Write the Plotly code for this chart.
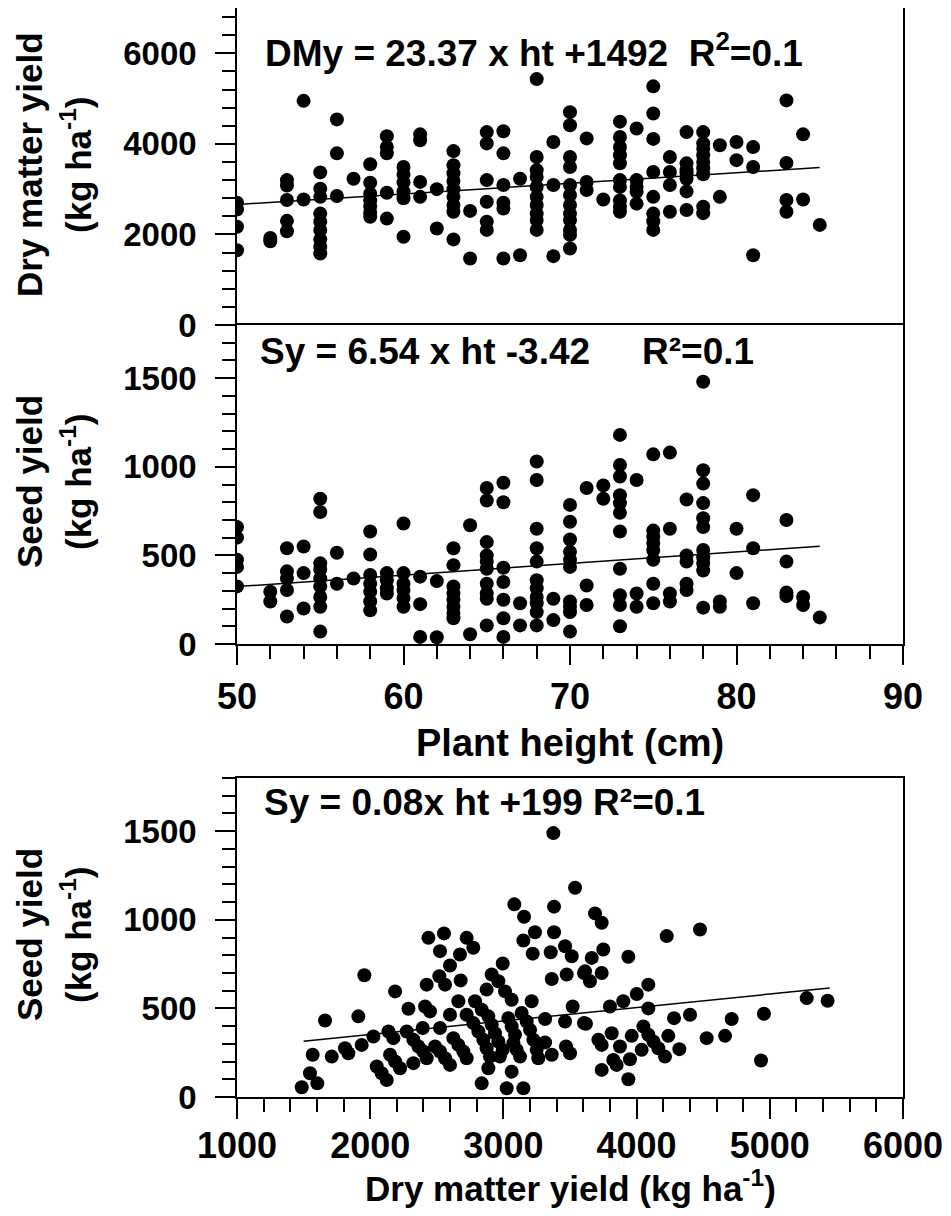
import plotly.graph_objects as go

# ---------------- data ----------------
# Panel 1: plant height (cm) vs dry matter yield (kg/ha)
ht_dm = ([50]*4 + [52]*2 + [53]*5 + [54]*2 + [55]*9 + [56]*3 + [57] + [58]*7 + [59]*5 +
         [60]*6 + [61]*4 + [62]*2 + [63]*9 + [64]*2 + [65]*6 + [66]*6 + [67]*2 + [68]*10 +
         [69]*3 + [70]*12 + [71]*3 + [72] + [73]*10 + [74]*5 + [75]*8 + [76]*4 + [77]*7 +
         [78]*9 + [79]*2 + [80]*2 + [81]*3 + [83]*4 + [84]*2 + [85])
dm_vals = [2700, 2550, 2170, 1650,
           1920, 1850,
           3200, 3080, 2760, 2300, 2070,
           4950, 2770,
           3370, 3010, 2830, 2460, 2280, 2100, 1890, 1730, 1580,
           4540, 3790, 2850,
           3230,
           3550, 3140, 2900, 2750, 2620, 2480, 2390,
           4170, 3930, 3790, 2920, 2350,
           3490, 3320, 3150, 2950, 2800, 1950,
           4210, 4080, 3160, 2830,
           3000, 2130,
           3840, 3530, 3350, 3180, 3000, 2830, 2650, 2500, 1890,
           2520, 1470,
           4260, 4010, 3200, 2720, 2280, 2100,
           4280, 3790, 3090, 2700, 2570, 1470,
           3230, 1540,
           5430, 3710, 3420, 3270, 3050, 2830, 2650, 2460, 2320, 2100,
           4040, 3090, 1520,
           4700, 4410, 3710, 3490, 3090, 2870, 2650, 2460, 2320, 2100, 1990, 1690,
           4120, 3160, 2980,
           2770,
           4490, 4150, 3930, 3750, 3570, 3200, 3050, 2750, 2610, 2500,
           4340, 3200, 3050, 2940, 2680,
           5270, 4670, 4110, 3380, 2830, 2460, 2290, 2100,
           3710, 3380, 3090, 2500,
           4260, 3570, 3420, 3350, 3230, 2950, 2540,
           4260, 4010, 3890, 3750, 3600, 3460, 3330, 2610, 2470,
           3970, 2830,
           4040, 3640,
           3930, 3490, 1540,
           4960, 3580, 2760, 2500,
           4210, 2770,
           2210]
fit1_x = [50, 85]
fit1_y = [2660, 3478]

# Panel 2: plant height (cm) vs seed yield (kg/ha)
ht_sy = ([50]*5 + [52]*2 + [53]*5 + [54]*3 + [55]*9 + [56]*2 + [57] + [58]*7 + [59]*4 +
         [60]*6 + [61]*3 + [62]*2 + [63]*8 + [64]*2 + [65]*10 + [66]*7 + [67]*2 + [68]*11 +
         [69]*2 + [70]*10 + [71]*3 + [72]*2 + [73]*11 + [74]*3 + [75]*8 + [76]*4 + [77]*5 +
         [78]*11 + [79]*2 + [80]*2 + [81]*3 + [83]*4 + [84]*2 + [85])
sy_vals = [660, 600, 475, 435, 325,
           295, 240,
           540, 410, 370, 305, 155,
           550, 400, 200,
           820, 745, 455, 420, 370, 325, 265, 210, 70,
           515, 340,
           370,
           635, 505, 390, 340, 295, 240, 190,
           400, 360, 315, 285,
           680, 400, 340, 305, 260, 210,
           380, 225, 40,
           355, 38,
           540, 445, 325, 285, 250, 210, 175, 145,
           670, 55,
           880, 810, 575, 500, 465, 425, 340, 285, 255, 105,
           910, 800, 430, 350, 250, 145, 40,
           230, 105,
           1030, 925, 650, 540, 465, 360, 315, 265, 230, 180, 105,
           255, 135,
           785, 690, 590, 520, 475, 435, 240, 210, 180, 70,
           880, 330, 220,
           895, 820,
           1180, 1010, 945, 840, 795, 740, 635, 425, 275, 220, 100,
           925, 285, 210,
           1070, 640, 605, 570, 530, 475, 340, 230,
           1080, 650, 285, 240,
           815, 500, 465, 340, 305,
           1480, 980, 905, 795, 710, 660, 530, 490, 455, 415, 205,
           240, 210,
           650, 400,
           840, 540, 230,
           700, 465, 290, 270,
           265, 220,
           150]
fit2_x = [50, 85]
fit2_y = [324, 552]

# Panel 3: dry matter yield vs seed yield (kg/ha)
dm3 = [1486, 1548, 1603, 1568, 1661, 1711, 1811, 1836, 1936, 1911, 1956, 2024, 2049, 2086,
       2124, 2137, 2174, 2187, 2149, 2187, 2224, 2287, 2274, 2324, 2362, 2399, 2424, 2324,
       2412, 2449, 2394, 2424, 2437,
       2554, 2524, 2724, 2774, 2674, 2599, 2519, 2562, 2679, 2662, 2599, 2524, 2787, 2837,
       2724, 2874, 2912, 2962, 2995, 3012, 3062, 2887, 3212, 3082, 3155, 3237, 3150, 3220,
       3375, 3380, 3380, 3355, 3463, 3513, 3538, 3363, 3475, 3605, 3520, 3463, 3313, 3605,
       3313, 3363, 3470, 3500,
       2487, 2524, 2562, 2599, 2624, 2662, 2699, 2724, 2774, 2812, 2849, 2874, 2899, 2887,
       2837, 2912, 2937, 2962, 2974, 2995, 3025, 3062, 3150, 3037, 3062, 3087, 3100, 3125,
       3075, 3137, 3175, 3200, 3225, 3250, 3262,
       3688, 3738, 3750, 3663, 3938, 4226, 4476, 3613, 3650, 3738, 4088, 4001, 3900, 3800,
       4088, 3620, 4051, 4088, 4126, 4163, 4213, 3713, 3738, 3813, 3875, 3963, 3950, 3825,
       3850, 3738, 3938, 4038, 4238, 4281, 4401, 4321, 4526, 4664, 4714,
       4956, 4934, 5277, 5434]
sy3 = [55, 134, 77, 238, 432, 228, 275, 247, 294, 455, 687, 341, 172, 134,
       96, 370, 332, 596, 238, 200, 162, 498, 370, 323, 285, 257, 219, 191,
       511, 483, 389, 634, 898,
       923, 823, 898, 842, 804, 742, 681, 634, 658, 540, 464, 389, 540, 492,
       464, 606, 691, 653, 753, 596, 549, 455, 540, 1087, 1017, 930, 883, 809,
       1489, 1074, 930, 817, 851, 794, 1181, 666, 691, 700, 511, 426, 440, 417,
       308, 238, 285, 247,
       285, 257, 219, 181, 332, 294, 257, 219, 417, 370, 323, 275, 228, 162,
       77, 408, 360, 313, 228, 266, 49, 143, 49, 445, 398, 351, 266, 228,
       304, 474, 426, 379, 323, 266, 219,
       1036, 983, 832, 785, 791, 908, 945, 709, 653, 700, 634, 581, 540, 511,
       500, 413, 398, 351, 313, 275, 228, 323, 294, 360, 285, 345, 213, 209,
       181, 153, 100, 266, 345, 445, 464, 270, 332, 345, 440,
       470, 206, 558, 543]
fit3_x = [1500, 5450]
fit3_y = [315, 615]

eq1 = "DMy = 23.37 x ht +1492\u00a0\u00a0R<sup>2</sup>=0.1"
eq2a = "Sy = 6.54 x ht -3.42"
eq2b = "R\u00b2=0.1"
eq3 = "Sy = 0.08x ht +199 R\u00b2=0.1"

# ---------------- figure ----------------
# the page body adds an 8 px margin, so the figure is drawn 8 px in from the window corner
OFF = 8
W, H = 951 - 2 * OFF, 1216 - 2 * OFF
FONT = "Liberation Sans, Arial, sans-serif"
def px(x):
    return min(1.0, max(0.0, (x - OFF) / W))
def py(y):
    return min(1.0, max(0.0, 1 - (y - OFF) / H))

XD = [px(237), px(903)]
mk = dict(color="black", size=14, symbol="circle")
ln = dict(color="black", width=1.5)

fig = go.Figure()
fig.add_trace(go.Scatter(x=ht_dm, y=dm_vals, mode="markers", marker=mk, xaxis="x", yaxis="y"))
fig.add_trace(go.Scatter(x=fit1_x, y=fit1_y, mode="lines", line=ln, xaxis="x", yaxis="y"))
fig.add_trace(go.Scatter(x=ht_sy, y=sy_vals, mode="markers", marker=mk, xaxis="x2", yaxis="y2"))
fig.add_trace(go.Scatter(x=fit2_x, y=fit2_y, mode="lines", line=ln, xaxis="x2", yaxis="y2"))
fig.add_trace(go.Scatter(x=dm3, y=sy3, mode="markers", marker=mk, xaxis="x3", yaxis="y3"))
fig.add_trace(go.Scatter(x=fit3_x, y=fit3_y, mode="lines", line=ln, xaxis="x3", yaxis="y3"))

xfont = dict(family=FONT, size=36, color="black", weight=700)
yfont = dict(family=FONT, size=33, color="black", weight=700)
base = dict(showline=True, linecolor="black", linewidth=1.5,
            showgrid=False, zeroline=False, tickcolor="black", tickwidth=1.5,
            automargin=False)

def yax(rng, dt, mdt, dom, anchor):
    return dict(domain=dom, range=rng, dtick=dt, tick0=0, ticks="outside", ticklen=20,
                minor=dict(dtick=mdt, tick0=0, ticks="outside", ticklen=13,
                           tickcolor="black", tickwidth=1.5),
                ticklabelstandoff=12, anchor=anchor, tickfont=yfont, mirror=True, **base)

fig.update_layout(
    width=W, height=H, margin=dict(l=0, r=0, t=0, b=0, autoexpand=False),
    paper_bgcolor="white", plot_bgcolor="white", showlegend=False,
    # top panel: only its upper frame line; its lower edge is the middle panel's upper frame
    xaxis=dict(domain=XD, range=[50, 90], anchor="y", side="top", showticklabels=False,
               ticks="", mirror=False, **base),
    yaxis=yax([0, 7000], 2000, 400, [py(325), py(7)], "x"),
    xaxis2=dict(domain=XD, range=[50, 90], anchor="y2", dtick=10, tick0=50, ticks="outside",
                ticklen=19, ticklabelstandoff=1, tickfont=xfont, mirror=True,
                ticklabeloverflow="allow",
                minor=dict(dtick=2, tick0=50, ticks="outside", ticklen=13, tickcolor="black", tickwidth=1.5),
                **base),
    yaxis2=yax([0, 1800], 500, 100, [py(644), py(325)], "x2"),
    xaxis3=dict(domain=XD, range=[1000, 6000], anchor="y3", dtick=1000, tick0=1000, ticks="outside",
                ticklen=20, ticklabelstandoff=-4, tickfont=xfont, mirror=True,
                ticklabeloverflow="allow",
                minor=dict(dtick=200, tick0=1000, ticks="outside", ticklen=13, tickcolor="black", tickwidth=1.5),
                **base),
    yaxis3=yax([0, 1800], 500, 100, [py(1097), py(778)], "x3"),
)

def ann(text, x, y, size=37, xanchor="left", angle=0):
    fig.add_annotation(text=text, x=px(x), y=py(y), xref="paper", yref="paper",
                       xanchor=xanchor, yanchor="middle", showarrow=False, textangle=angle,
                       font=dict(family=FONT, size=size, color="black", weight=700))

ann(eq1, 263, 50)
ann(eq2a, 258, 352)
ann(eq2b, 640, 352)
ann(eq3, 262, 802)

ann("Dry matter yield", 29, 165, size=35, xanchor="center", angle=-90)
ann("(kg ha<sup>-1</sup>)", 76, 165, size=35, xanchor="center", angle=-90)
ann("Seed yield", 29, 482, size=35, xanchor="center", angle=-90)
ann("(kg ha<sup>-1</sup>)", 76, 482, size=35, xanchor="center", angle=-90)
ann("Seed yield", 29, 935, size=35, xanchor="center", angle=-90)
ann("(kg ha<sup>-1</sup>)", 76, 935, size=35, xanchor="center", angle=-90)
ann("Plant height (cm)", 570, 743, size=38, xanchor="center")
ann("Dry matter yield (kg ha<sup>-1</sup>)", 570, 1186, size=35, xanchor="center")

fig.write_html("out.html")
